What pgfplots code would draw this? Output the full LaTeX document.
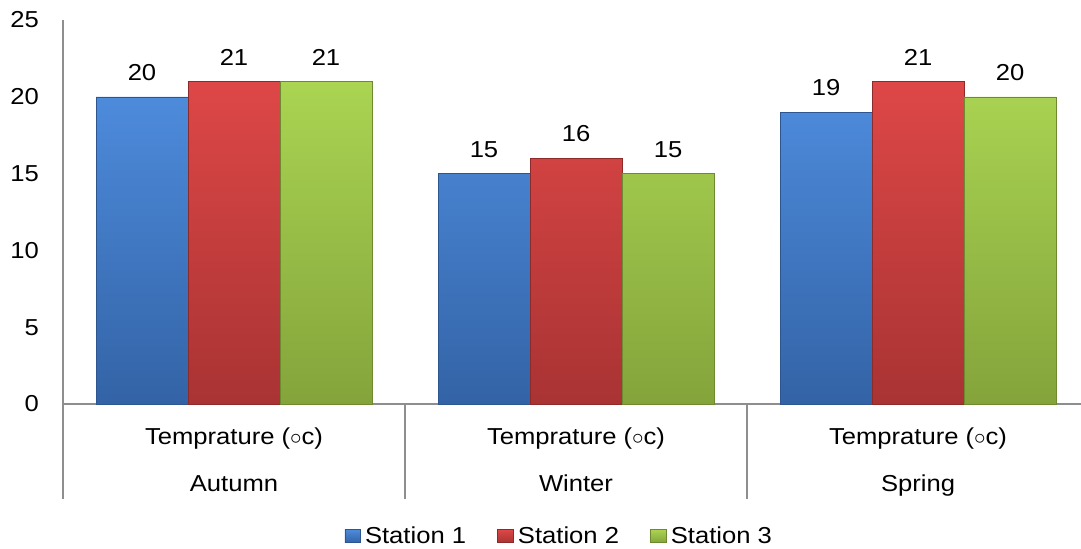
\documentclass[border=0pt]{standalone}
\usepackage{fontspec}
\setmainfont{Liberation Sans}[FakeStretch=1.11]
\usepackage{pgfplots}
\pgfplotsset{compat=1.18}

\definecolor{axgray}{HTML}{8E8E8E}
\definecolor{bluetop}{HTML}{4D8BDB}
\definecolor{bluebot}{HTML}{3363A6}
\definecolor{blueedge}{HTML}{2D5590}
\definecolor{redtop}{HTML}{DE4747}
\definecolor{redbot}{HTML}{A93333}
\definecolor{rededge}{HTML}{8E2A2A}
\definecolor{greentop}{HTML}{AAD452}
\definecolor{greenbot}{HTML}{84A43B}
\definecolor{greenedge}{HTML}{6E8A30}

\newcommand\chartfont{\fontsize{17.3}{20}\selectfont}

\begin{document}
\begin{tikzpicture}
\useasboundingbox (0,0) rectangle (810.75pt,411.75pt);
\clip (0,0) rectangle (810.75pt,411.75pt);
\begin{axis}[
  at={(47.25pt,108.75pt)}, anchor=south west,
  scale only axis, width=769.5pt, height=288pt,
  ybar=0pt, bar width=69pt,
  xmin=-0.5, xmax=2.5, ymin=0, ymax=25,
  ytick={0,5,...,25},
  xtick={0,1,2},
  xticklabels={{Temprature ($\circ$c)\\Autumn},{Temprature ($\circ$c)\\Winter},{Temprature ($\circ$c)\\Spring}},
  axis x line*=bottom, axis y line*=left,
  axis line style={axgray, line width=0.9pt},
  major tick length=0pt,
  /pgf/number format/assume math mode=true,
  ticklabel style={font=\chartfont},
  yticklabel style={xshift=-14.5pt},
  xticklabel style={align=center, font=\fontsize{17.3}{35.25}\selectfont, yshift=-14.5pt},
  nodes near coords,
  every node near coord/.append style={font=\chartfont, yshift=8.5pt},
  clip=false,
  legend columns=-1,
  legend style={draw=none, fill=none, font=\chartfont,
    at={(axis description cs:0.484,-0.344)}, anchor=center,
    /tikz/every odd column/.append style={column sep=1.5pt},
    /tikz/every even column/.append style={column sep=21.5pt}},
  legend image code/.code={\draw[#1] (0pt,-4.9pt) rectangle (11.5pt,4.9pt);},
]
\addplot[top color=bluetop, bottom color=bluebot, draw=blueedge, line width=0.4pt]
  coordinates {(0,20) (1,15) (2,19)};
\addplot[top color=redtop, bottom color=redbot, draw=rededge, line width=0.4pt]
  coordinates {(0,21) (1,16) (2,21)};
\addplot[top color=greentop, bottom color=greenbot, draw=greenedge, line width=0.4pt]
  coordinates {(0,21) (1,15) (2,20)};
\legend{Station 1, Station 2, Station 3}
% category dividers below the baseline
\draw[axgray, line width=0.9pt] (axis cs:-0.5,0) -- ++(0pt,-71.25pt);
\draw[axgray, line width=0.9pt] (axis cs:0.5,0) -- ++(0pt,-71.25pt);
\draw[axgray, line width=0.9pt] (axis cs:1.5,0) -- ++(0pt,-71.25pt);
\draw[axgray, line width=0.9pt] (axis cs:2.5,0) -- ++(0pt,-71.25pt);
\end{axis}
\end{tikzpicture}
\end{document}
